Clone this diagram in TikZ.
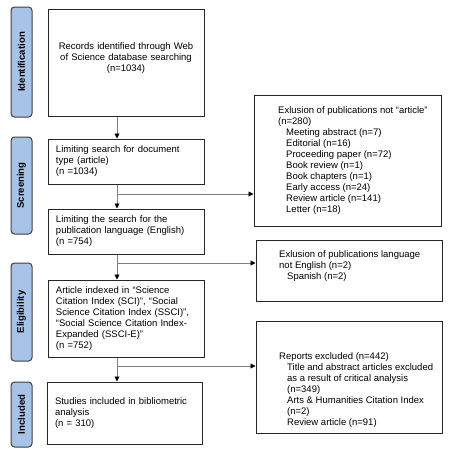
\documentclass[tikz,border=0pt]{standalone}
\usepackage{fontspec}
\setmainfont{Liberation Sans}
\usepackage{xcolor}
\usepackage{tikz}
\usetikzlibrary{arrows.meta,positioning}
\definecolor{phase}{HTML}{A7C3E8}
\definecolor{phaseline}{HTML}{3F3F3F}
\definecolor{conn}{HTML}{7F7F7F}
\newcommand{\exind}{\hspace*{8pt}}

\begin{document}
\begin{tikzpicture}[x=1pt,y=-1pt,
    phasebox/.style={draw=phaseline,fill=phase,line width=1pt,rounded corners=3.5pt,rotate=90,
      minimum height=21pt,inner sep=0pt,font=\fontsize{9.6}{11}\selectfont\bfseries},
    stagebox/.style={draw=black!85,line width=1pt,inner xsep=8pt,inner ysep=0pt,
      text width=140pt,align=left,font=\fontsize{9.5}{11}\selectfont},
    exbox/.style={draw=black!85,line width=1pt,inner sep=0pt},
    extext/.style={anchor=west,inner sep=0pt,align=left,font=\fontsize{9.5}{11}\selectfont},
    flow/.style={draw=conn,line width=0.9pt,-{Triangle[length=5pt,width=5pt,color=black]}}]
  \useasboundingbox (0,0) rectangle (453,456);

  \path
  (21.5,62) node[phasebox,minimum width=110pt] (ident) {Identification}
  (21.5,185.5) node[phasebox,minimum width=97pt] (screen) {Screening}
  (21.5,312) node[phasebox,minimum width=98pt] (elig) {Eligibility}
  (21.5,414.5) node[phasebox,minimum width=65pt] (incl) {Included}
  ;

  \path
  (126,62.5) node[stagebox,align=center,minimum height=107pt] (rec)
    {Records identified through Web\\of Science database searching\\(n=1034)\\[-1pt]\mbox{}}
  (126,161.5) node[stagebox,minimum height=45pt] (lim)
    {Limiting search for document\\type (article)\\(n =1034)}
  (126,231.5) node[stagebox,minimum height=45pt] (lang)
    {Limiting the search for the\\publication language (English)\\(n =754)}
  (126,318.5) node[stagebox,minimum height=77pt] (idx)
    {Article indexed in “Science\\Citation Index (SCI)”, “Social\\Science Citation Index (SSCI)”,\\“Social Science Citation Index-\\Expanded (SSCI-E)”\\(n =752)}
  (124.5,413) node[stagebox,text width=139pt,minimum height=62pt] (study)
    {Studies included in bibliometric\\analysis\\(n = 310)}
  ;

  \path
  (347.5,160.5) node[exbox,minimum width=187pt,minimum height=131pt] (ex1) {}
  (349,270.5) node[exbox,minimum width=186pt,minimum height=61pt] (ex2) {}
  (349,377) node[exbox,minimum width=186pt,minimum height=112pt] (ex3) {}
  (278,161) node[extext] (ex1txt)
    {Exlusion of publications not “article”\\(n=280)\\\exind Meeting abstract (n=7)\\\exind Editorial (n=16)\\\exind Proceeding paper (n=72)\\\exind Book review (n=1)\\\exind Book chapters (n=1)\\\exind Early access (n=24)\\\exind Review article (n=141)\\\exind Letter (n=18)}
  (279,266) node[extext] (ex2txt)
    {Exlusion of publications language\\not English (n=2)\\\exind Spanish (n=2)}
  (279,390) node[extext] (ex3txt)
    {Reports excluded (n=442)\\\exind Title and abstract articles excluded\\\exind as a result of critical analysis\\\exind (n=349)\\\exind Arts \& Humanities Citation Index\\\exind (n=2)\\\exind Review article (n=91)}
  ;

  \coordinate (trunk) at (117,0);
  \coordinate (br1) at (117,194);
  \coordinate (br2) at (117,263);
  \coordinate (br3) at (117,366);

  \draw[flow] (rec.south -| trunk) -- (lim.north -| trunk);
  \draw[flow] (lim.south -| trunk) -- (lang.north -| trunk);
  \draw[flow] (lang.south -| trunk) -- (idx.north -| trunk);
  \draw[flow] (idx.south -| trunk) -- (study.north -| trunk);
  \draw[flow] (br1) -- (br1 -| ex1.west);
  \draw[flow] (br2) -- (br2 -| ex2.west);
  \draw[flow] (br3) -- (br3 -| ex3.west);
\end{tikzpicture}
\end{document}
